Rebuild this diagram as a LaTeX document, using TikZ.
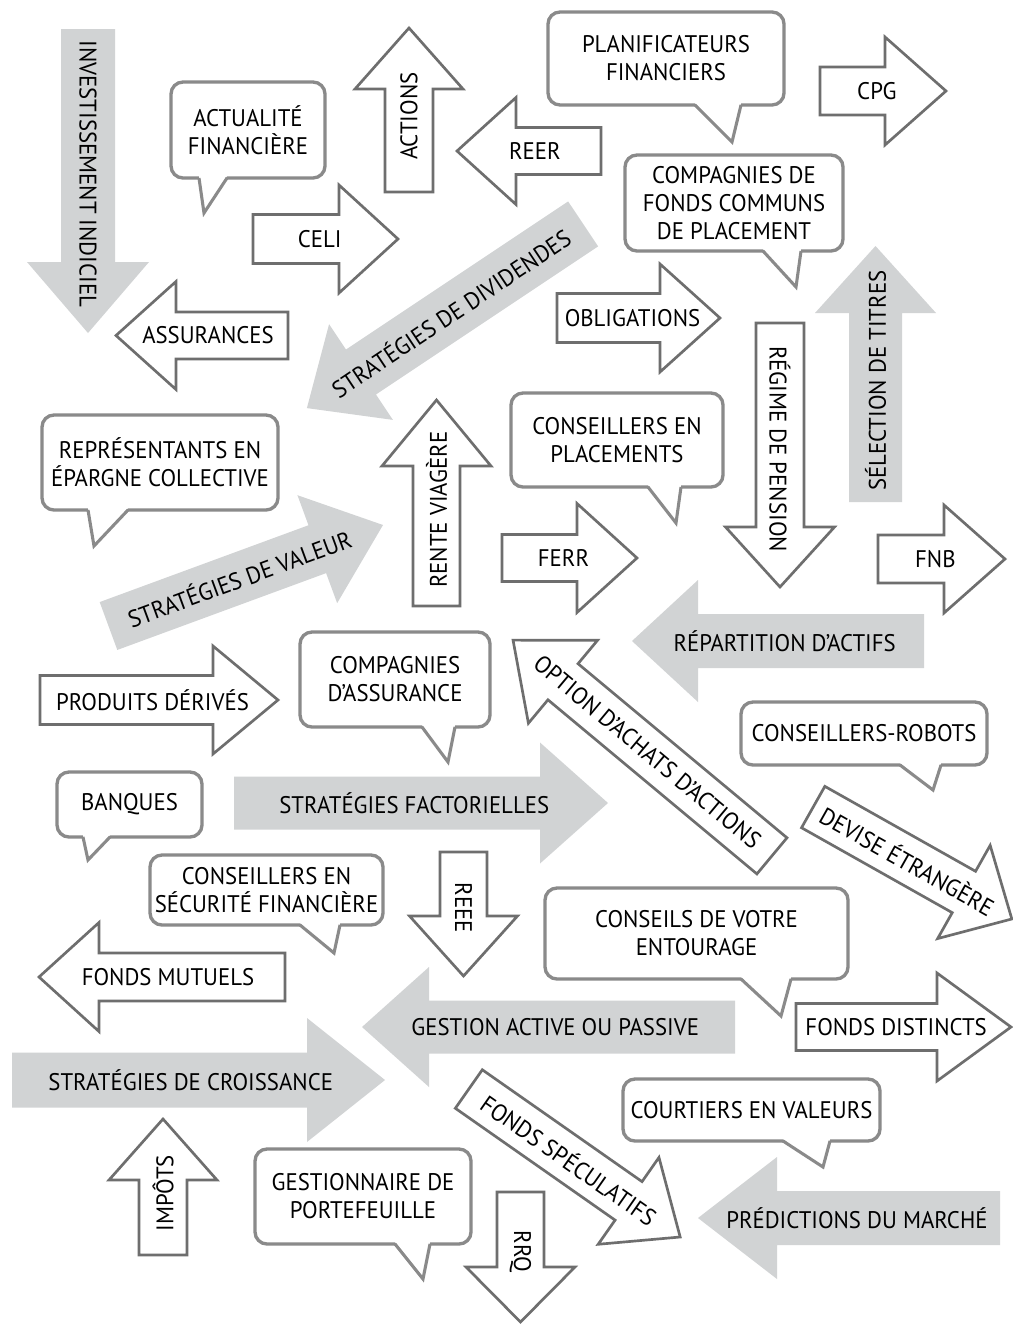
\documentclass[tikz,border=0pt]{standalone}
\usepackage{fontspec}
\setmainfont{PT Sans}[FakeStretch=0.95]
\definecolor{arrline}{HTML}{6E6E6E}
\definecolor{arrfill}{HTML}{D1D3D4}
\definecolor{bubline}{HTML}{8A8A8A}
\tikzset{
  lbl/.style={font=\fontsize{18}{21}\selectfont, inner sep=0pt, text=black},
  wa/.style={draw=arrline, line width=2pt, fill=white, line join=miter},
  ga/.style={fill=arrfill},
  bub/.style={draw=bubline, line width=2.5pt, fill=white, rounded corners=9pt},
  bubtail/.style={draw=bubline, line width=2.3pt, line join=miter}
}
\newcounter{arrn}
% #1 style, #2 cx, #3 cy, #4 angle, #5 length, #6 shaft width, #7 head width, #8 head length, #9 text
\newcommand{\barrowcore}[9]{%
  \stepcounter{arrn}\edef\arrname{arr\arabic{arrn}}%
  \begin{scope}[shift={(#2,#3)},rotate=#4]
    \path[#1] ({-(#5)/2},{-(#6)/2}) -- ({(#5)/2-(#8)},{-(#6)/2}) -- ({(#5)/2-(#8)},{-(#7)/2})
      -- ({(#5)/2},0) -- ({(#5)/2-(#8)},{(#7)/2}) -- ({(#5)/2-(#8)},{(#6)/2}) -- ({-(#5)/2},{(#6)/2}) -- cycle;
    \node[lbl,transform shape,rotate=\batextrot] (\arrname) at ({-(#8)/10},0) {#9};
  \end{scope}}
\newcommand{\barrow}{\def\batextrot{0}\barrowcore}
\newcommand{\barrowf}{\def\batextrot{180}\barrowcore}
% #1 x1, #2 y1, #3 x2, #4 y2, #5 tail left, #6 tail right, #7 tip, #8 name, #9 text
\newcommand{\bubble}[9]{%
  \draw[bub] (#1,#2) rectangle (#3,#4);
  \fill[white] ({#5},{#4-2}) -- (#7) -- ({#6},{#4-2}) -- cycle;
  \draw[bubtail] ({#5},{#4}) -- (#7) -- ({#6},{#4});
  \node[lbl,align=center] (#8) at ({(#1+#3)/2},{(#2+#4)/2}) {#9};}
\begin{document}
\begin{tikzpicture}[x=0.75pt,y=-0.75pt]
\fill[white] (0,0) rectangle (1013,1324);
\useasboundingbox (0,0) rectangle (1013,1324);
% gray arrows
\barrow{ga}{88}{181}{-90}{304}{54}{122}{71}{INVESTISSEMENT INDICIEL}
\barrowf{ga}{445}{316}{213.7}{332}{54}{115}{65}{STRATÉGIES DE DIVIDENDES}
\barrow{ga}{875.5}{374}{90}{256}{53}{121}{67}{SÉLECTION DE TITRES}
\barrow{ga}{245.75}{575.5}{20.2}{292.5}{51}{115}{70}{STRATÉGIES DE VALEUR}
\barrowf{ga}{778}{641}{180}{292}{54}{122}{66}{RÉPARTITION D’ACTIFS}
\barrow{ga}{421}{803}{0}{374}{53}{121}{68}{STRATÉGIES FACTORIELLES}
\barrowf{ga}{548.5}{1027}{180}{373}{53}{120}{67}{GESTION ACTIVE OU PASSIVE}
\barrow{ga}{198.5}{1080}{0}{373}{55}{124}{78}{STRATÉGIES DE CROISSANCE}
\barrowf{ga}{849}{1218}{180}{302}{54}{122}{79}{PRÉDICTIONS DU MARCHÉ}
% white arrows
\barrow{wa}{409}{110}{90}{164}{48}{108}{61}{ACTIONS}
\barrowf{wa}{529}{151}{180}{144}{47}{107}{59}{REER}
\barrow{wa}{883}{91}{0}{126}{48}{108}{61}{CPG}
\barrow{wa}{325.5}{239}{0}{145}{49}{108}{59}{CELI}
\barrowf{wa}{202}{335.5}{180}{172}{47}{108}{60}{ASSURANCES}
\barrow{wa}{638.5}{318}{0}{163}{49}{108}{60}{OBLIGATIONS}
\barrow{wa}{436.5}{503}{90}{206}{47}{109}{66}{RENTE VIAGÈRE}
\barrow{wa}{569.5}{558}{0}{135}{47}{109}{60}{FERR}
\barrow{wa}{780}{455}{-90}{264}{48}{109}{60}{RÉGIME DE PENSION}
\barrow{wa}{941.5}{559}{0}{127}{48}{108}{61}{FNB}
\barrow{wa}{159}{700}{0}{238}{49}{108}{65}{PRODUITS DÉRIVÉS}
\barrowf{wa}{642.5}{748}{140.2}{337}{47}{108}{65}{OPTION D’ACHATS D’ACTIONS}
\barrow{wa}{912.5}{863}{-29.4}{228}{47.5}{107}{55}{DEVISE ÉTRANGÈRE}
\barrow{wa}{463.5}{914}{-90}{124}{47}{108}{60}{REEE}
\barrowf{wa}{162}{977}{180}{246}{48}{109}{60}{FONDS MUTUELS}
\barrow{wa}{903.5}{1027}{0}{215}{47}{108}{74}{FONDS DISTINCTS}
\barrow{wa}{574.5}{1163}{-35}{258}{47}{106}{63}{FONDS SPÉCULATIFS}
\barrow{wa}{163}{1187}{90}{136}{48}{108}{61}{IMPÔTS}
\barrow{wa}{520.5}{1257}{-90}{130}{47}{109}{55}{RRQ}
% bubbles
\bubble{548}{12}{784}{105}{695}{741}{732,142}{b1}{PLANIFICATEURS\\FINANCIERS}
\bubble{171}{82}{325}{178}{199}{227}{204,213}{b2}{ACTUALITÉ\\FINANCIÈRE}
\bubble{625}{155}{843}{251}{763}{801}{796,287}{b3}{COMPAGNIES DE\\FONDS COMMUNS\\DE PLACEMENT}
\bubble{42}{415}{278}{510}{88}{128}{94,546}{b4}{REPRÉSENTANTS EN\\ÉPARGNE COLLECTIVE}
\bubble{511}{393}{723}{487}{648}{681}{676,523}{b5}{CONSEILLERS EN\\PLACEMENTS}
\bubble{300}{632}{490}{727}{422}{455}{448,762}{b6}{COMPAGNIES\\D’ASSURANCE}
\bubble{741}{702}{987}{765}{900}{941}{933,790}{b7}{CONSEILLERS-ROBOTS}
\bubble{57}{772}{202}{837}{83}{110}{88,860}{b8}{BANQUES}
\bubble{150}{855}{383}{925}{300}{340}{334,953}{b9}{CONSEILLERS EN\\SÉCURITÉ FINANCIÈRE}
\bubble{545}{888}{848}{979}{741}{791}{781,1016}{b10}{CONSEILS DE VOTRE\\ENTOURAGE}
\bubble{623}{1079}{880}{1141}{783}{830}{823,1167}{b11}{COURTIERS EN VALEURS}
\bubble{255}{1149}{471}{1244}{395}{430}{423,1279}{b12}{GESTIONNAIRE DE\\PORTEFEUILLE}
\end{tikzpicture}
\end{document}
